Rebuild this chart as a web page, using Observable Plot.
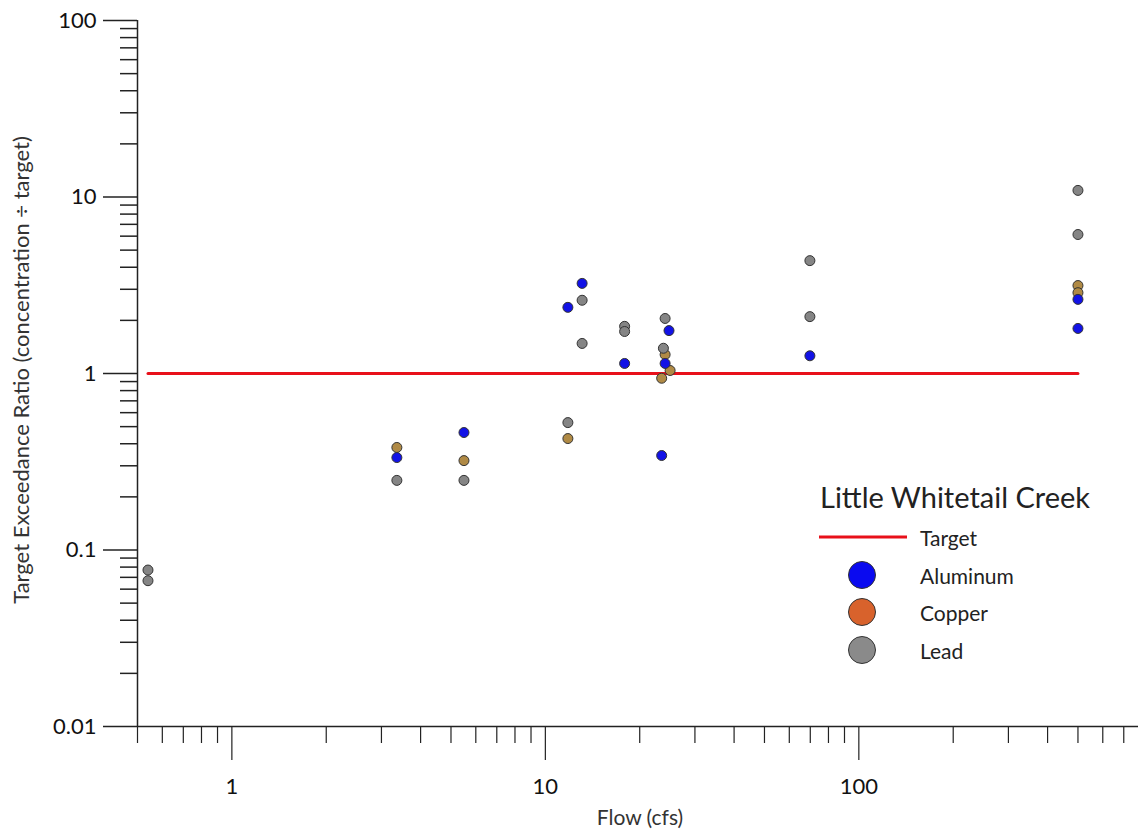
<!DOCTYPE html>
<html>
<head>
<meta charset="utf-8">
<script src="https://cdn.jsdelivr.net/npm/d3@7"></script>
<script src="https://cdn.jsdelivr.net/npm/@observablehq/plot@0.6"></script>
<style>
  html, body { margin: 0; padding: 0; background: #fff; }
  #wrap { position: relative; width: 1138px; height: 829px; font-family: Lato, "Open Sans", sans-serif; color: #222; }
  #wrap svg { position: absolute; left: 0; top: 0; }
  .ylab { position: absolute; left: 20px; top: 370px; transform: translate(-50%, -50%) rotate(-90deg); white-space: nowrap; font-size: 22px; color: #333; }
  .xlab { position: absolute; left: 640px; top: 816px; transform: translate(-50%, -50%); white-space: nowrap; font-size: 21px; color: #333; }
  .legend-title { position: absolute; left: 820px; top: 496px; transform: translateY(-50%); font-size: 29px; white-space: nowrap; color: #222; }
  .leg-item { position: absolute; left: 920px; transform: translateY(-50%); font-size: 21px; white-space: nowrap; color: #222; }
  .leg-line { position: absolute; left: 819px; width: 88px; height: 3px; background: #e8101a; transform: translateY(-50%); }
  .leg-dot { position: absolute; left: 848px; width: 26px; height: 26px; border-radius: 50%; border: 1.5px solid #333; transform: translateY(-50%); }
</style>
</head>
<body>
<div id="wrap"></div>
<script>
// ---- Data (flow in cfs, target exceedance ratio) ----
const aluminumFlow  = [3.36, 5.5, 11.8, 13.1, 17.9, 23.5, 24.8, 24.1, 69.8, 500, 500];
const aluminumRatio = [0.334, 0.463, 2.37, 3.24, 1.14, 0.343, 1.75, 1.14, 1.26, 2.63, 1.80];

const copperFlow  = [3.36, 5.5, 11.8, 24.1, 25.0, 23.5, 500, 500];
const copperRatio = [0.381, 0.321, 0.428, 1.28, 1.04, 0.94, 3.15, 2.87];

const leadFlow  = [0.54, 0.54, 3.36, 5.5, 11.8, 13.1, 13.1, 17.9, 17.9, 24.1, 23.8, 69.8, 69.8, 500, 500];
const leadRatio = [0.077, 0.067, 0.248, 0.248, 0.527, 2.6, 1.48, 1.85, 1.73, 2.05, 1.39, 4.36, 2.10, 10.9, 6.13];

const targetValue = 1;

const yMajor = [0.01, 0.1, 1, 10, 100];
const xMajor = [1, 10, 100];

const seriesNames = ["Aluminum", "Copper", "Lead"];
const seriesFill = {Aluminum: "#1212e6", Copper: "#b08a45", Lead: "#858585"};
const legendFill = {Aluminum: "#0a0af0", Copper: "#d8622c", Lead: "#8a8a8a"};

// ---- Build table ----
function rows(name, fx, fy) { return fx.map((f, i) => ({series: name, flow: f, ratio: fy[i]})); }
const data = [
  ...rows("Copper", copperFlow, copperRatio),
  ...rows("Lead", leadFlow, leadRatio),
  ...rows("Aluminum", aluminumFlow, aluminumRatio)
];
const flowExtent = d3.extent(data, d => d.flow);
const targetLine = [{flow: flowExtent[0], ratio: targetValue}, {flow: flowExtent[1], ratio: targetValue}];

// minor ticks
const yMinor = [];
for (const p of [0.01, 0.1, 1, 10]) for (let k = 2; k <= 9; k++) yMinor.push(+(p * k).toPrecision(3));
const xMinor = [0.5, 0.6, 0.7, 0.8, 0.9];
for (const p of [1, 10, 100]) for (let k = 2; k <= 9; k++) { const v = p * k; if (v <= 780) xMinor.push(v); }

const axisColor = "#222";
const chart = Plot.plot({
  width: 1138,
  height: 829,
  marginLeft: 137,
  marginRight: 0,
  marginTop: 20,
  marginBottom: 103,
  style: {fontFamily: "Lato, 'Open Sans', sans-serif", color: "#111", background: "transparent"},
  x: {type: "log", domain: [0.5, 780], label: null},
  y: {type: "log", domain: [0.01, 100], label: null},
  marks: [
    Plot.axisY({ticks: yMajor, tickSize: 34, tickPadding: 7, tickFormat: d => String(d), fontSize: 22, stroke: axisColor, strokeWidth: 1.5, label: null}),
    Plot.axisY({ticks: yMinor, tickSize: 17, tickFormat: () => "", stroke: axisColor, strokeWidth: 1.5, label: null}),
    Plot.axisX({ticks: xMajor, tickSize: 34, tickPadding: 18, tickFormat: d => String(d), fontSize: 22, stroke: axisColor, strokeWidth: 1.2, label: null}),
    Plot.axisX({ticks: xMinor, tickSize: 17, tickFormat: () => "", stroke: axisColor, strokeWidth: 1.2, label: null}),
    Plot.ruleX([0.5], {stroke: axisColor, strokeWidth: 1.5}),
    Plot.ruleY([0.01], {stroke: axisColor, strokeWidth: 1.5}),
    Plot.line(targetLine, {x: "flow", y: "ratio", stroke: "#e8101a", strokeWidth: 3}),
    Plot.dot(data, {x: "flow", y: "ratio", r: 5, fill: d => seriesFill[d.series], stroke: "#333", strokeWidth: 1})
  ]
});
const wrap = document.getElementById("wrap");
wrap.appendChild(chart);

function addDiv(cls, text, top) {
  const el = document.createElement("div");
  el.className = cls;
  if (text) el.textContent = text;
  if (top != null) el.style.top = top + "px";
  wrap.appendChild(el);
  return el;
}
addDiv("ylab", "Target Exceedance Ratio (concentration ÷ target)");
addDiv("xlab", "Flow (cfs)");
addDiv("legend-title", "Little Whitetail Creek");
addDiv("leg-line", null, 537);
addDiv("leg-item", "Target", 537);
const legendY = [575, 612, 650];
seriesNames.forEach((name, i) => {
  const dot = addDiv("leg-dot", null, legendY[i]);
  dot.style.background = legendFill[name];
  addDiv("leg-item", name, legendY[i]);
});
</script>
</body>
</html>
